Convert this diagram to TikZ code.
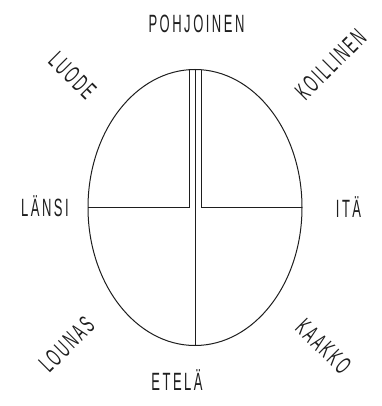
\documentclass[tikz,border=0pt]{standalone}
\usepackage{fontspec}
\setmainfont{Liberation Sans}[FakeStretch=0.52,LetterSpace=10]
\usepackage{tikz}
\usetikzlibrary{calc}
\definecolor{ink}{RGB}{30,30,30}
\tikzset{
  wall/.style={draw=ink,line width=1pt},
  dirlbl/.style={font=\fontsize{25}{25}\selectfont,text=ink,inner sep=0pt,anchor=center},
}

\begin{document}
\begin{tikzpicture}[x=1pt,y=-1pt]
\useasboundingbox (0,0) rectangle (381,406);
% the room: an oval, split by the walls
\coordinate (mid) at (195,207.5);
\draw[wall] (mid) ellipse [x radius=107,y radius=138];
\coordinate (ntop) at (195,69.5);
\coordinate (sbot) at (195,345.5);
\coordinate (wl) at (88,207.5);
\coordinate (er) at (302,207.5);
\draw[wall] (ntop) -- (sbot);
\draw[wall] (189,69.7) -- (189,207.5) -- (wl);
\draw[wall] (201,69.7) -- (201,207.5) -- (er);
% compass points
\node[dirlbl] (pohj) at (196.5,24) {POHJOINEN};
\node[dirlbl] (etel) at (177,380) {ETELÄ};
\node[dirlbl] (lans) at (45,206.5) {LÄNSI};
\node[dirlbl] (ita) at (348.5,207) {ITÄ};
\node[dirlbl,rotate=-45] (luode) at (72.5,75.5) {LUODE};
\node[dirlbl,rotate=45] (koill) at (330.5,64.5) {KOILLINEN};
\node[dirlbl,rotate=45] (louna) at (66.5,344.5) {LOUNAS};
\node[dirlbl,rotate=-45] (kaakk) at (323.5,346.5) {KAAKKO};
\end{tikzpicture}
\end{document}
